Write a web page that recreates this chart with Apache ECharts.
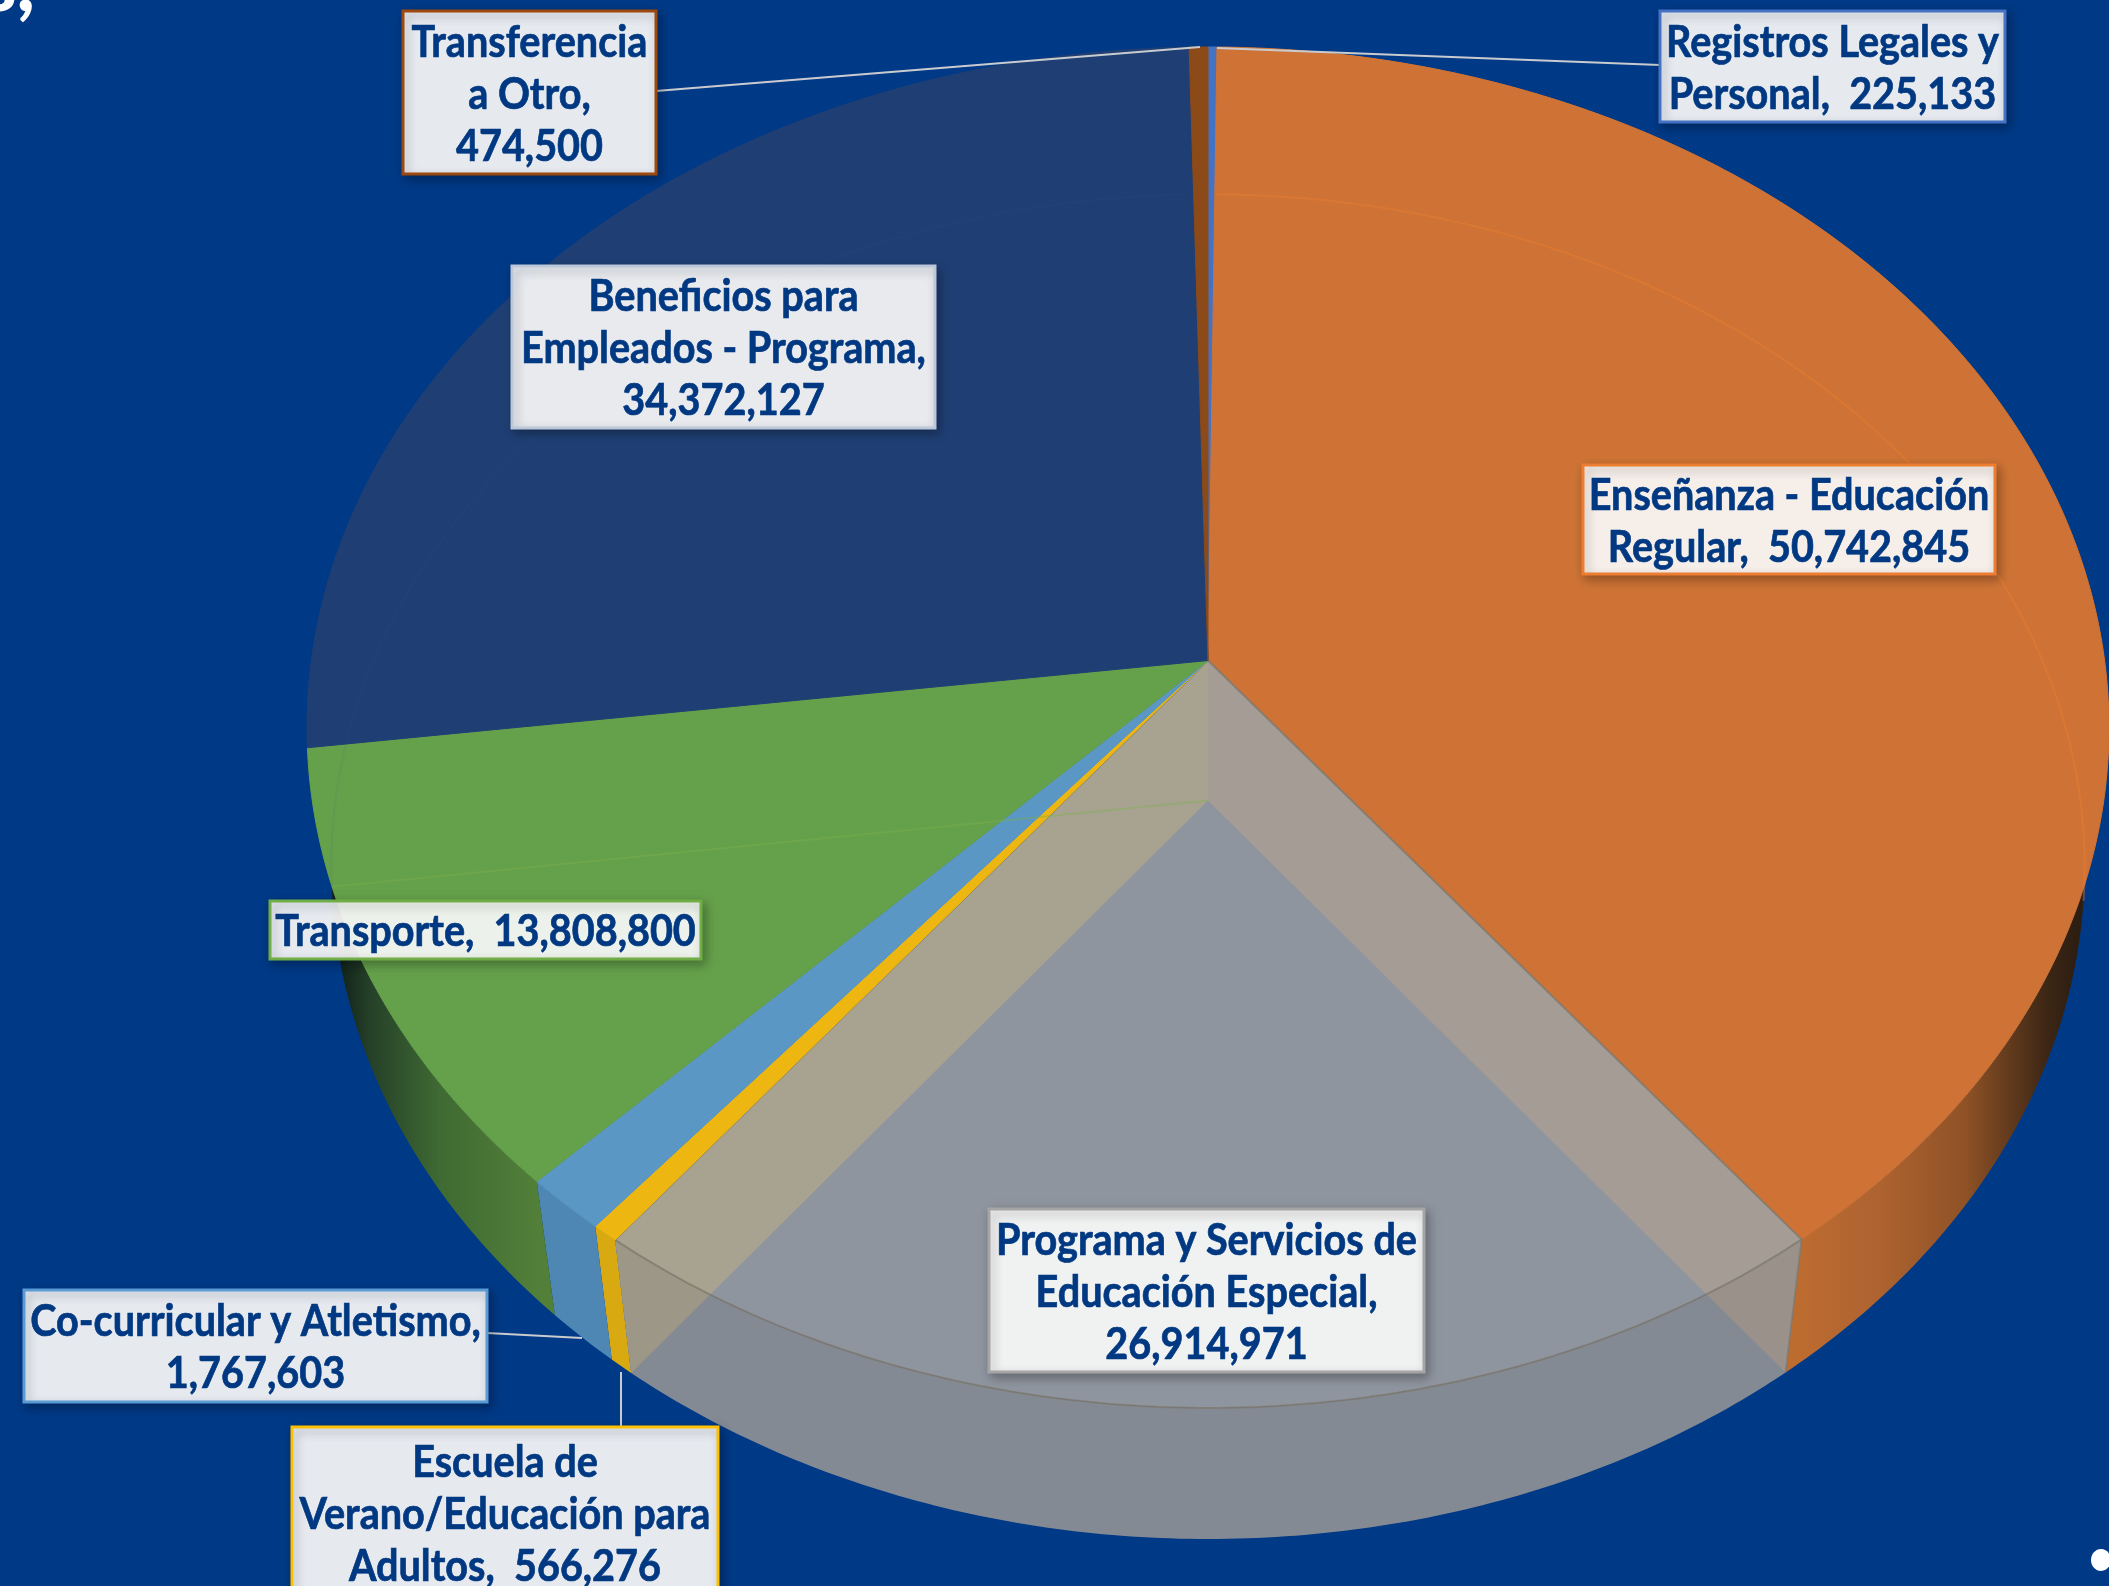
<!DOCTYPE html>
<html>
<head>
<meta charset="utf-8">
<style>html,body{margin:0;padding:0;background:#003986}#c{width:2109px;height:1586px}</style>
<script src="https://cdn.jsdelivr.net/npm/echarts@6/dist/echarts.min.js"></script>
</head>
<body>
<div id="c"></div>
<script>
// ---- data ----
const categories = [
  'Registros Legales y\nPersonal',
  'Enseñanza - Educación\nRegular',
  'Programa y Servicios de\nEducación Especial',
  'Escuela de\nVerano/Educación para\nAdultos',
  'Co-curricular y Atletismo',
  'Transporte',
  'Beneficios para\nEmpleados - Programa',
  'Transferencia\na Otro'
];
const values = [225133, 50742845, 26914971, 566276, 1767603, 13808800, 34372127, 474500];
const valueOnOwnLine = [false, false, true, false, true, false, true, true];

// ---- styles and layout ----
const topColors = ['#4472C4', '#CE7335', '#8F959F', '#EDB610', '#5A97C4', '#65A04A', '#1F3F74', '#8B4A18'];
const borderColors = ['#4472C4', '#ED7D31', '#A5A5A5', '#FFC000', '#5B9BD5', '#70AD47', '#BCC7D9', '#9E480E'];
const boxes = [
  [1660, 11, 345, 111], [1583, 465, 412, 109], [989, 1209, 435, 163], [292, 1427, 426, 175],
  [24, 1290, 463, 112], [270, 901, 431, 58], [512, 266, 423, 162], [403, 11, 253, 163]
];
const leaders = [
  [[1660, 65], [1217, 48]], null, null, [[621, 1427], [621, 1372]],
  [[487, 1333], [582, 1338]], null, null, [[656, 91], [1200, 47]]
];
const cx = 1208, cy = 660.5, R = 896.6, K = 673.9, P = 0.0984;
const FONT = 'Lato', FONT_SIZE = 44, LINE_H = 52, TEXT_SX = 0.9;
const TEXT_COLOR = '#003882';

const total = values.reduce((a, b) => a + b, 0);
const cum = [0];
values.forEach((v, i) => cum.push(cum[i] + v));
const ang = i => cum[i] / total * Math.PI * 2;

function topPt(t) {
  const x = Math.sin(t), y = -Math.cos(t), w = 1 - P * y;
  return [cx + R * x / w, cy + K * y / w];
}
function botOf(p) {
  return [cx + (p[0] - cx) * 0.973, p[1] + 140 - (p[1] - cy) * 0.012];
}
const botPt = t => botOf(topPt(t));
function arc(fn, a, b) {
  const n = Math.max(2, Math.ceil(Math.abs(b - a) / 0.01)), pts = [];
  for (let i = 0; i <= n; i++) pts.push(fn(a + (b - a) * i / n));
  return pts;
}
const grad = (x0, x1, stops) => new echarts.graphic.LinearGradient(x0, 0, x1, 0,
  stops.map(s => ({ offset: s[0], color: s[1] })), true);

const wallFills = [
  '#4472C4',
  grad(1800, 2075, [[0, '#BD6C30'], [0.3, '#AD6230'], [0.6, '#8F5226'], [0.9, '#3C2615'], [1, '#2E1E12']]),
  null,
  '#D9A912',
  '#4F87B4',
  grad(340, 540, [[0, '#12231A'], [0.15, '#254028'], [0.5, '#3F6A33'], [1, '#528039']]),
  '#1F3F74',
  '#8B4A18'
];

function wallItem(params) {
  const i = params.dataIndex;
  if (!wallFills[i]) return { type: 'group', children: [] };
  const a = ang(i), b = ang(i + 1);
  const pts = arc(topPt, a, b).concat(arc(botPt, b, a));
  return { type: 'polygon', shape: { points: pts }, style: { fill: wallFills[i] } };
}

function greyFace(a, b, color) {
  const C = [cx, cy], Cb = botOf(C), t0 = topPt(a), t1 = topPt(b), b0 = botPt(a), b1 = botPt(b);
  const topArc = arc(topPt, a, b), botArc = arc(botPt, b, a);
  return [
    { type: 'polygon', shape: { points: [C].concat(topArc) }, style: { fill: color } },
    { type: 'polygon', shape: { points: topArc.concat(botArc) }, style: { fill: color } },
    { type: 'polygon', shape: { points: [C, t0, b0, Cb] }, style: { fill: '#A59D95' } },
    { type: 'polygon', shape: { points: [C, t1, b1, Cb] }, style: { fill: '#A8A391' } },
    { type: 'polygon', shape: { points: topArc.concat(botArc) }, style: { fill: 'rgba(0,0,0,0.07)' } },
    { type: 'polyline', shape: { points: topArc }, style: { stroke: 'rgba(125,120,110,0.75)', lineWidth: 2, fill: null } },
    { type: 'polyline', shape: { points: [t0, C, t1] }, style: { stroke: 'rgba(125,120,110,0.75)', lineWidth: 2, fill: null } },
    { type: 'polyline', shape: { points: [t0, b0] }, style: { stroke: 'rgba(125,120,110,0.6)', lineWidth: 2, fill: null } }
  ];
}

function faceItem(params) {
  const i = params.dataIndex, a = ang(i), b = ang(i + 1), c = topColors[i];
  if (i === 2) return { type: 'group', children: greyFace(a, b, c) };
  const pts = [[cx, cy]].concat(arc(topPt, a, b));
  return { type: 'polygon', shape: { points: pts }, style: { fill: c, stroke: c, lineWidth: 1 } };
}

function rimItem(params) {
  const i = params.dataIndex, a = ang(i), b = ang(i + 1);
  const kids = [];
  if (i === 1) kids.push({ type: 'polyline', shape: { points: arc(botPt, a, Math.min(b, 1.72)) },
    style: { fill: null, stroke: 'rgba(237,125,49,0.4)', lineWidth: 2 } });
  if (i === 6) kids.push({ type: 'polyline', shape: { points: arc(botPt, a, b) },
    style: { fill: null, stroke: 'rgba(60,90,140,0.08)', lineWidth: 2 } });
  if (i === 5) kids.push({ type: 'polyline', shape: { points: [botOf([cx, cy]), botPt(b)] },
    style: { fill: null, stroke: 'rgba(125,175,80,0.4)', lineWidth: 2 } });
  return { type: 'group', children: kids };
}

function labelItem(params) {
  const i = params.dataIndex, bx = boxes[i];
  const txt = categories[i] + ',' + (valueOnOwnLine[i] ? '\n' : '  ') + values[i].toLocaleString('en-US');
  const kids = [];
  if (leaders[i]) kids.push({ type: 'polyline', shape: { points: leaders[i] },
    style: { fill: null, stroke: '#C9CBCF', lineWidth: 2 } });
  kids.push({ type: 'rect', shape: { x: bx[0], y: bx[1], width: bx[2], height: bx[3] },
    style: { fill: 'rgba(255,255,255,0.9)', stroke: borderColors[i], lineWidth: 3,
      shadowBlur: 10, shadowOffsetX: 3, shadowOffsetY: 4, shadowColor: 'rgba(0,0,0,0.3)' } });
  const lines = txt.split('\n').length;
  kids.push({ type: 'text', x: bx[0] + bx[2] / 2, y: bx[1] + 2 + (i === 3 ? 8 + lines * LINE_H / 2 : bx[3] / 2), scaleX: TEXT_SX,
    style: { text: txt, x: 0, y: 0, align: 'center', verticalAlign: 'middle', fill: TEXT_COLOR,
      stroke: TEXT_COLOR, lineWidth: 0.7,
      fontFamily: FONT, fontWeight: 'bold', fontSize: FONT_SIZE, lineHeight: LINE_H } });
  return { type: 'group', children: kids };
}

const seriesData = values.map(v => [v]);
const layer = (fn, z) => ({ type: 'custom', coordinateSystem: 'none', renderItem: fn, data: seriesData, silent: true, z, animation: false, clip: false });

const chart = echarts.init(document.getElementById('c'), null, { renderer: 'canvas' });
chart.setOption({
  backgroundColor: '#003986',
  animation: false,
  series: [layer(wallItem, 1), layer(faceItem, 2), layer(rimItem, 3), layer(labelItem, 4)],
  graphic: [
    { type: 'text', x: -17, y: -52, z: 5, silent: true,
      style: { text: 's,', fill: '#fff', fontFamily: 'Lato', fontWeight: 900, fontSize: 76 } },
    { type: 'ellipse', z: 5, silent: true, shape: { cx: 2101, cy: 1560, rx: 10, ry: 11 }, style: { fill: '#fff' } }
  ]
});
</script>
</body>
</html>
